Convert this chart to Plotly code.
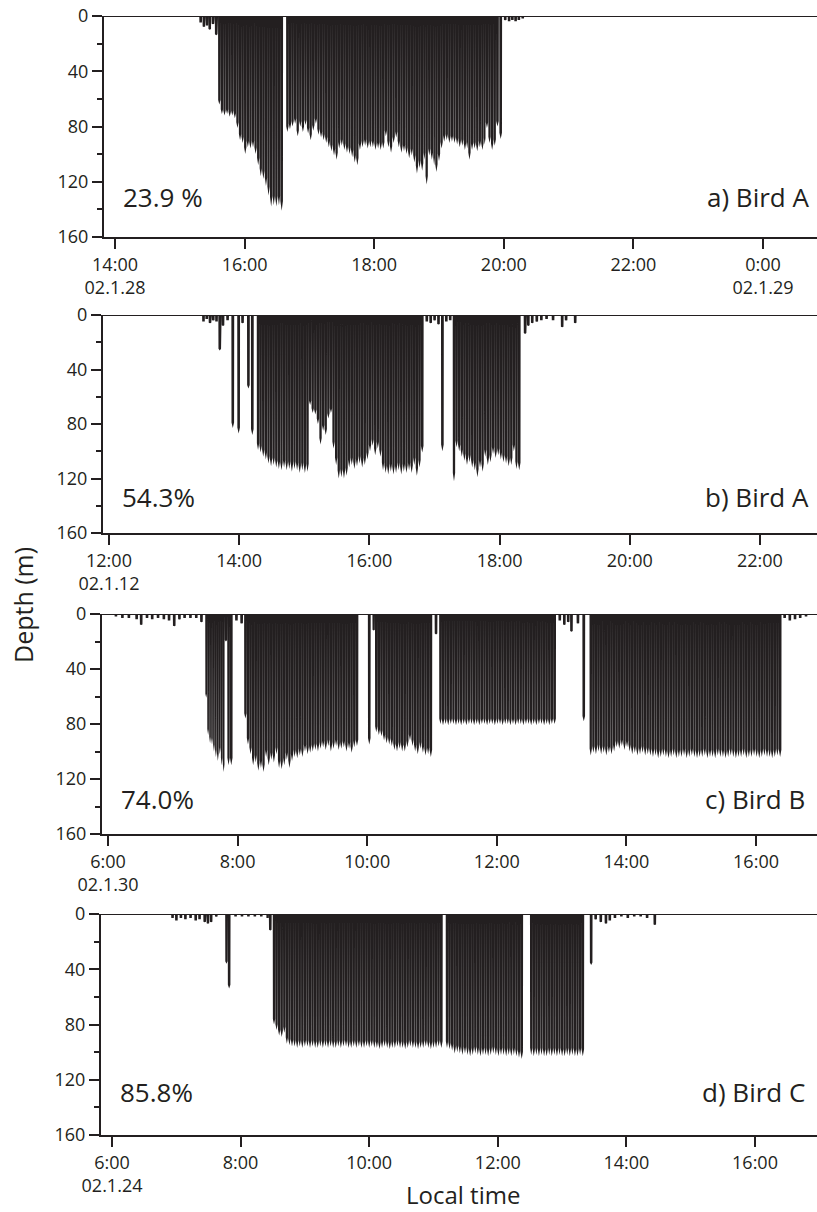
import plotly.graph_objects as go

# ---------------- data (dive start time in decimal hours, max depth in m) ----------------
a_time = [15.30, 15.35, 15.40, 15.44, 15.49, 15.54,
          15.59, 15.63, 15.67, 15.71, 15.75, 15.79, 15.83, 15.87, 15.91, 15.95,
          15.99, 16.03, 16.07, 16.11, 16.15, 16.19, 16.23, 16.27, 16.31, 16.35,
          16.39, 16.43, 16.47, 16.51, 16.55,
          16.64, 16.68, 16.72, 16.76, 16.80, 16.84, 16.88, 16.92, 16.96, 17.00,
          17.04, 17.08, 17.12, 17.16, 17.20, 17.24, 17.28, 17.32, 17.36, 17.40,
          17.44, 17.48, 17.52, 17.56, 17.60, 17.64, 17.68, 17.72, 17.76, 17.80,
          17.84, 17.88, 17.92, 17.96, 18.00, 18.04, 18.08, 18.12, 18.16, 18.20,
          18.24, 18.28, 18.32, 18.36, 18.40, 18.44, 18.48, 18.52, 18.56, 18.60,
          18.64, 18.68, 18.72, 18.76,
          18.79, 18.83, 18.87, 18.91, 18.94, 18.98, 19.02, 19.06, 19.10, 19.14,
          19.18, 19.22, 19.26, 19.30, 19.34, 19.38, 19.42, 19.45, 19.49, 19.53,
          19.57, 19.61, 19.65, 19.69, 19.72, 19.76, 19.80, 19.84, 19.88, 19.93,
          20.00, 20.06, 20.11, 20.16, 20.21, 20.27]
a_depth = [5, 8, 7, 10, 6, 14,
           64, 71, 72, 71, 73, 72, 74, 81, 90, 92,
           100, 95, 96, 95, 100, 108, 116, 118, 123, 130,
           138, 137, 138, 137, 141,
           84, 82, 80, 78, 87, 80, 84, 79, 85, 90,
           83, 78, 86, 88, 90, 92, 95, 98, 101, 104,
           96, 94, 97, 99, 100, 102, 106, 108, 97, 95,
           94, 96, 95, 95, 97, 96, 97, 96, 87, 95,
           99, 92, 88, 95, 99, 98, 100, 103, 101, 106,
           114, 110, 112, 104,
           122, 101, 104, 108, 113, 105, 96, 91, 90, 92,
           91, 92, 93, 95, 94, 97, 96, 104, 97, 96,
           98, 95, 97, 93, 81, 92, 97, 94, 80, 89,
           3, 4, 3, 4, 3, 2]

b_time = [13.43, 13.48, 13.53, 13.58, 13.63, 13.68, 13.73, 13.80,
          13.88, 13.97, 14.03, 14.12, 14.18,
          14.27, 14.31, 14.35, 14.39, 14.43, 14.47, 14.51, 14.55, 14.59, 14.63,
          14.67, 14.71, 14.75, 14.79, 14.83, 14.87, 14.91, 14.95, 14.99, 15.03,
          15.07, 15.11, 15.15, 15.19, 15.23, 15.27, 15.31, 15.35, 15.39, 15.43,
          15.47, 15.51, 15.55, 15.59, 15.63, 15.67, 15.71, 15.75, 15.79, 15.83,
          15.87, 15.91, 15.95, 15.99, 16.03, 16.07, 16.11, 16.15, 16.19, 16.23,
          16.27, 16.31, 16.35, 16.39, 16.43, 16.47, 16.51, 16.55, 16.59, 16.63,
          16.67, 16.71, 16.75, 16.79,
          16.86, 16.92, 16.98, 17.04, 17.10, 17.16, 17.22, 17.28,
          17.32, 17.36, 17.40, 17.44, 17.48, 17.52, 17.56, 17.60, 17.64, 17.68,
          17.72, 17.76, 17.80, 17.84, 17.88, 17.92, 17.96, 18.00, 18.04, 18.08,
          18.12, 18.16, 18.20, 18.24, 18.28,
          18.37, 18.42, 18.48, 18.55, 18.62, 18.70, 18.80, 18.94, 19.00, 19.14]
b_depth = [5, 3, 6, 4, 5, 26, 8, 4,
           83, 87, 6, 54, 88,
           99, 101, 104, 106, 109, 111, 110, 112, 113, 114,
           112, 114, 113, 115, 113, 114, 116, 114, 116, 115,
           66, 72, 73, 80, 95, 85, 88, 76, 72, 98,
           110, 120, 119, 120, 118, 112, 110, 113, 111, 109,
           112, 110, 106, 100, 96, 103, 98, 104, 114, 116,
           117, 115, 117, 116, 114, 117, 115, 116, 114, 116,
           110, 118, 112, 101,
           5, 6, 4, 7, 100, 5, 4, 122,
           97, 100, 104, 107, 110, 108, 112, 114, 119, 112,
           115, 104, 110, 108, 102, 105, 103, 106, 108, 109,
           111, 110, 100, 113, 114,
           14, 8, 6, 5, 4, 3, 4, 9, 4, 6]

c_time = [6.10, 6.20, 6.30, 6.42, 6.49, 6.58, 6.66, 6.75, 6.84, 6.92, 7.00, 7.08, 7.16, 7.25, 7.34, 7.42,
          7.50, 7.53, 7.56, 7.59, 7.62, 7.65, 7.68, 7.71, 7.74, 7.77, 7.80, 7.84, 7.88,
          7.96, 8.04,
          8.10, 8.14, 8.18, 8.22, 8.26, 8.30, 8.34, 8.38, 8.42, 8.46,
          8.50, 8.54, 8.58, 8.62, 8.66, 8.70, 8.74, 8.78, 8.82, 8.86,
          8.90, 8.94, 8.98, 9.02, 9.06, 9.10, 9.14, 9.18, 9.22, 9.26,
          9.30, 9.34, 9.38, 9.42, 9.46, 9.50, 9.54, 9.58, 9.62, 9.66,
          9.70, 9.74, 9.78, 9.82,
          10.01,
          10.08,
          10.12, 10.16, 10.20, 10.24, 10.28, 10.32, 10.36, 10.40, 10.44, 10.48,
          10.52, 10.56, 10.60, 10.64, 10.68, 10.72, 10.76, 10.80, 10.84, 10.88,
          10.92, 10.96,
          11.04,
          11.11, 11.15, 11.19, 11.23, 11.27, 11.31, 11.35, 11.39, 11.43, 11.47,
          11.51, 11.55, 11.59, 11.63, 11.67, 11.71, 11.75, 11.79, 11.83, 11.87,
          11.91, 11.95, 11.99, 12.03, 12.07, 12.11, 12.15, 12.19, 12.23, 12.27,
          12.31, 12.35, 12.39, 12.43, 12.47, 12.51, 12.55, 12.59, 12.63, 12.67,
          12.71, 12.75, 12.79, 12.83, 12.87,
          12.95, 13.02, 13.08, 13.13, 13.23, 13.32,
          13.43, 13.47, 13.51, 13.55, 13.59, 13.63, 13.67, 13.71, 13.75, 13.79,
          13.83, 13.87, 13.91, 13.95, 13.99, 14.03,
          14.07, 14.11, 14.15, 14.19, 14.23, 14.27, 14.31,
          14.35, 14.39, 14.43, 14.47, 14.51, 14.55, 14.59, 14.63, 14.67, 14.71,
          14.75, 14.79, 14.83, 14.87, 14.91, 14.95, 14.99, 15.03, 15.07, 15.11,
          15.15, 15.19, 15.23, 15.27, 15.31, 15.35, 15.39, 15.43, 15.47, 15.51,
          15.55, 15.59, 15.63, 15.67, 15.71, 15.75, 15.79, 15.83, 15.87, 15.91,
          15.95, 15.99, 16.03, 16.07, 16.11, 16.15, 16.19, 16.23, 16.27, 16.31,
          16.35,
          16.42, 16.50, 16.58, 16.66, 16.75]
c_depth = [2, 3, 3, 4, 8, 3, 4, 3, 4, 5, 9, 4, 3, 3, 3, 6,
           61, 88, 94, 95, 100, 104, 107, 102, 110, 115, 20, 110, 110,
           5, 7,
           76, 95, 102, 110, 108, 114, 112, 115, 104, 110,
           106, 108, 102, 112, 113, 110, 106, 112, 107, 104,
           105, 103, 104, 100, 102, 101, 100, 99, 100, 98,
           97, 99, 96, 100, 98, 96, 99, 98, 97, 100,
           98, 101, 97, 96,
           95,
           12,
           86, 88, 89, 92, 94, 95, 96, 99, 100, 98,
           100, 100, 97, 92, 96, 100, 102, 98, 101, 103,
           102, 104,
           15,
           80, 81, 80, 81, 80, 80, 81, 80, 81, 80,
           81, 80, 80, 81, 80, 81, 80, 80, 81, 80,
           80, 81, 80, 80, 81, 80, 80, 81, 80, 81,
           80, 80, 81, 80, 80, 81, 80, 81, 80, 80,
           81, 80, 81, 80, 80,
           5, 8, 6, 13, 7, 78,
           103, 101, 102, 100, 102, 101, 103, 101, 102, 100,
           97, 98, 96, 99, 97, 100,
           102, 101, 103, 102, 101, 103, 102,
           103, 104, 103, 105, 104, 103, 104, 105, 104, 103,
           105, 104, 104, 103, 105, 104, 103, 104, 105, 104,
           104, 103, 105, 104, 104, 105, 103, 104, 104, 105,
           104, 103, 104, 105, 104, 104, 103, 105, 104, 104,
           103, 104, 105, 104, 103, 104, 104, 105, 104, 103,
           104,
           3, 5, 4, 3, 2]

d_time = [6.92, 6.98, 7.05, 7.12, 7.20, 7.28, 7.34, 7.42, 7.47, 7.52, 7.60,
          7.76, 7.80, 7.90, 8.00, 8.10, 8.20, 8.30, 8.40, 8.44,
          8.50, 8.54, 8.58, 8.62, 8.66, 8.70, 8.74, 8.78, 8.82, 8.86,
          8.90, 8.94, 8.98, 9.02, 9.06, 9.10, 9.14, 9.18, 9.22, 9.26,
          9.30, 9.34, 9.38, 9.42, 9.46, 9.50, 9.54, 9.58, 9.62, 9.66,
          9.70, 9.74, 9.78, 9.82, 9.86, 9.90, 9.94, 9.98, 10.02, 10.06,
          10.10, 10.14, 10.18, 10.22, 10.26, 10.30, 10.34, 10.38, 10.42, 10.46,
          10.50, 10.54, 10.58, 10.62, 10.66, 10.70, 10.74, 10.78, 10.82, 10.86,
          10.90, 10.94, 10.98, 11.02, 11.06, 11.10,
          11.19, 11.23, 11.27, 11.31, 11.35, 11.39, 11.43, 11.47, 11.51, 11.55,
          11.59, 11.63, 11.67, 11.71, 11.75, 11.79, 11.83, 11.87, 11.91, 11.95,
          11.99, 12.03, 12.07, 12.11, 12.15, 12.19, 12.23, 12.27, 12.31, 12.35,
          12.50, 12.54, 12.58, 12.62, 12.66, 12.70, 12.74, 12.78, 12.82, 12.86,
          12.90, 12.94, 12.98, 13.02, 13.06, 13.10, 13.14, 13.18, 13.22, 13.26,
          13.30,
          13.43, 13.50, 13.58, 13.66, 13.72, 13.80, 13.90, 14.00, 14.10, 14.20, 14.30, 14.42]
d_depth = [3, 5, 3, 4, 3, 5, 4, 6, 7, 6, 2,
           36, 54, 2, 2, 2, 2, 2, 3, 12,
           80, 84, 88, 89, 86, 94, 95, 96, 96, 97,
           96, 97, 96, 96, 97, 96, 97, 97, 96, 97,
           96, 97, 96, 97, 97, 96, 97, 96, 96, 97,
           97, 96, 97, 96, 97, 97, 96, 97, 96, 97,
           97, 98, 97, 96, 97, 98, 97, 97, 96, 97,
           97, 98, 97, 96, 97, 97, 98, 97, 97, 96,
           97, 98, 97, 97, 96, 97,
           97, 98, 99, 101, 100, 101, 102, 101, 102, 103,
           102, 101, 102, 103, 102, 102, 103, 102, 101, 102,
           103, 102, 102, 103, 102, 103, 102, 103, 104, 105,
           102, 103, 102, 103, 102, 103, 103, 102, 103, 102,
           103, 102, 103, 103, 102, 103, 102, 103, 103, 102,
           103,
           37, 4, 6, 7, 5, 3, 2, 3, 2, 2, 3, 8]

pct_labels = ["23.9 %", "54.3%", "74.0%", "85.8%"]
bird_labels = ["a) Bird A", "b) Bird A", "c) Bird B", "d) Bird C"]

a_tickvals = [14, 16, 18, 20, 22, 24]
a_ticktext = ["14:00<br>02.1.28", "16:00", "18:00", "20:00", "22:00", "0:00<br>02.1.29"]
b_tickvals = [12, 14, 16, 18, 20, 22]
b_ticktext = ["12:00<br>02.1.12", "14:00", "16:00", "18:00", "20:00", "22:00"]
c_tickvals = [6, 8, 10, 12, 14, 16]
c_ticktext = ["6:00<br>02.1.30", "8:00", "10:00", "12:00", "14:00", "16:00"]
d_tickvals = [6, 8, 10, 12, 14, 16]
d_ticktext = ["6:00<br>02.1.24", "8:00", "10:00", "12:00", "14:00", "16:00"]

depth_ticks = [0, 40, 80, 120, 160]
depth_minor = [20, 60, 100, 140]

# ---------------- layout geometry (pixels) ----------------
W, H = 817, 1212
INK = "#231f20"
FONT = "Open Sans"
panels = [
    dict(t=a_time, d=a_depth, tv=a_tickvals, tt=a_ticktext, xr=[13.830, 24.833], box=(104, 16, 237), ly=197, rx=812),
    dict(t=b_time, d=b_depth, tv=b_tickvals, tt=b_ticktext, xr=[11.908, 22.876], box=(103, 315, 533), ly=497, rx=811),
    dict(t=c_time, d=c_depth, tv=c_tickvals, tt=c_ticktext, xr=[5.907, 16.941], box=(102, 614, 834), ly=799, rx=807),
    dict(t=d_time, d=d_depth, tv=d_tickvals, tt=d_ticktext, xr=[5.829, 16.964], box=(101, 914, 1135), ly=1092, rx=807),
]

SURF = 0.0007
MAXDUR = 0.0435
RAMP = 0.002


def profile(ts, ds, x0, x1):
    assert len(ts) == len(ds), (len(ts), len(ds))
    xs, ys = [x0], [0]
    for i, (t, d) in enumerate(zip(ts, ds)):
        nxt = ts[i + 1] if i + 1 < len(ts) else t + 1
        dur = min(nxt - t - SURF, MAXDUR)
        r = min(RAMP, dur / 3)
        xs += [t, t + r, t + dur / 2, t + dur - r, t + dur]
        ys += [0, d * 0.95, d, d * 0.95, 0]
    xs.append(x1)
    ys.append(0)
    return xs, ys


fig = go.Figure()
layout = dict(width=W, height=H, margin=dict(l=0, r=0, t=0, b=0, autoexpand=False),
              paper_bgcolor="white", plot_bgcolor="white", showlegend=False,
              font=dict(family=FONT, color=INK))
annotations = []
shapes = []

for i, p in enumerate(panels, start=1):
    xs, ys = profile(p["t"], p["d"], p["xr"][0], p["xr"][1])
    sfx = "" if i == 1 else str(i)
    fig.add_trace(go.Scatter(x=xs, y=ys, mode="lines", fill="tozeroy",
                             fillcolor=INK, line=dict(width=0, color=INK),
                             xaxis="x" + sfx, yaxis="y" + sfx, hoverinfo="skip"))
    left, top, bot = p["box"]
    layout["xaxis" + sfx] = dict(
        domain=[left / W, 1.0], range=p["xr"], anchor="y" + sfx, automargin=False,
        tickvals=p["tv"], ticktext=p["tt"], ticks="outside", ticklen=10, tickwidth=1.5,
        tickcolor=INK, showline=True, linecolor=INK, linewidth=2, showgrid=False,
        zeroline=False, tickfont=dict(size=18, family=FONT, color=INK))
    layout["yaxis" + sfx] = dict(
        domain=[1 - bot / H, 1 - top / H], range=[160, 0], anchor="x" + sfx, automargin=False,
        tickvals=depth_ticks, ticks="outside", ticklen=10, tickwidth=1.5, tickcolor=INK,
        minor=dict(tickvals=depth_minor, ticks="outside", ticklen=5, tickwidth=1.5, tickcolor=INK),
        showline=True, linecolor=INK, linewidth=2, showgrid=False, zeroline=False,
        tickfont=dict(size=18, family=FONT, color=INK))
    shapes.append(dict(type="line", xref="x" + sfx + " domain", yref="y" + sfx,
                       x0=0, x1=1, y0=0, y1=0, line=dict(color=INK, width=2)))
    annotations.append(dict(text=pct_labels[i - 1], xref="paper", yref="paper",
                            x=(left + 17) / W, y=1 - p["ly"] / H, xanchor="left", yanchor="middle",
                            showarrow=False, font=dict(size=26, family=FONT, color=INK)))
    annotations.append(dict(text=bird_labels[i - 1], xref="paper", yref="paper",
                            x=p["rx"] / W, y=1 - p["ly"] / H, xanchor="right", yanchor="middle",
                            showarrow=False, font=dict(size=26, family=FONT, color=INK)))

annotations.append(dict(text="Depth (m)", xref="paper", yref="paper", x=23 / W, y=1 - 605 / H,
                        textangle=-90, xanchor="center", yanchor="middle", showarrow=False,
                        font=dict(size=25, family=FONT, color=INK)))
annotations.append(dict(text="Local time", xref="paper", yref="paper", x=463 / W, y=1 - 1194 / H,
                        xanchor="center", yanchor="middle", showarrow=False,
                        font=dict(size=24, family=FONT, color=INK)))
layout["annotations"] = annotations
layout["shapes"] = shapes
fig.update_layout(**layout)
fig.write_html("out.html", config={"displayModeBar": False},
               post_script="document.body.style.margin='0';document.body.style.padding='0';"
                           "document.documentElement.style.overflow='hidden';")
